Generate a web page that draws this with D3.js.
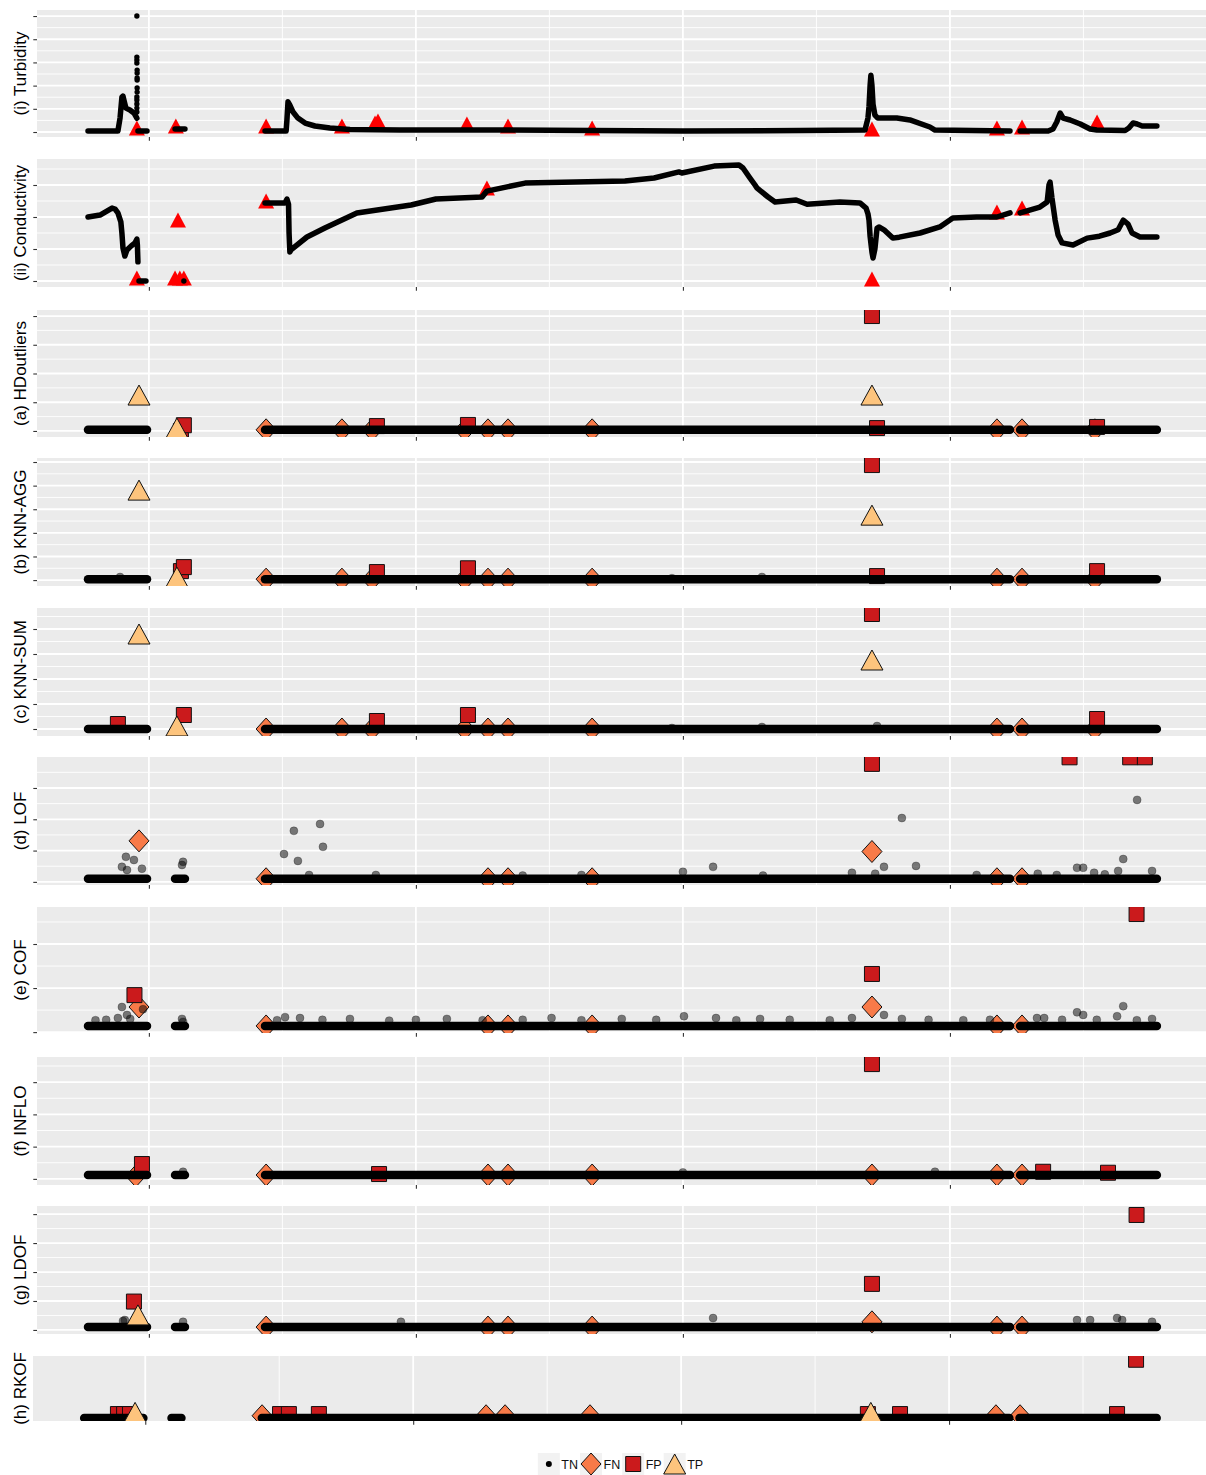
<!DOCTYPE html>
<html>
<head>
<meta charset="utf-8">
<script src="https://cdn.jsdelivr.net/npm/d3@7"></script>
<style>
  body { margin: 0; background: #fff; }
  svg { display: block; font-family: "Liberation Sans", Arial, sans-serif; }
</style>
</head>
<body>
<svg id="chart" width="1206" height="1475"></svg>
<script>
// ---- time axis (day index, unlabelled in the original) ----
const xBreaks = [100, 200, 300, 400];
const xMinorBreaks = [150, 250, 350, 450];
const xLimits = [58.1, 495.9];
// stretches of time that have observations
const coverage = [[77.2, 99.3], [109.8, 113.5], [143.5, 422.5], [426.3, 477.5]];

// ---- (i) turbidity: [day, value] ----
const turbidityLines = [
  [[77.2,4.3],[88.4,4.3],[89.2,60],[89.9,150],[90.3,155],[90.7,135],[91.4,103],[92.9,95],[94.4,82],[95.5,60]],
  [[95.9,4.3],[99.3,4.3]],
  [[109.8,12.9],[113.5,12.9]],
  [[143.5,4.3],[151.4,4.3],[151.7,52],[152.1,130],[152.8,116],[154.0,86],[155.8,60],[158.5,38.8],[162.2,25.9],
   [167.8,17.2],[175.3,10.8],[194.0,8.6],[231.5,8.6],[266.0,6.5],[300.0,4.3],[343.9,6.5],[368.2,8.6],[369.3,60],
   [369.7,110],[370.1,200],[370.4,245],[370.8,200],[371.2,120],[371.9,73],[373.0,60],[380.1,60],[385.0,52],
   [392.5,21.6],[394.4,8.6],[422.5,4.3]],
  [[426.3,4.3],[436.8,4.3],[438.6,12.9],[440.0,43],[441.3,81.9],[442.4,60],[445.0,51.7],[448.8,34.5],[452.5,12.9],
   [455.0,8.6],[465.6,6.5],[467.0,17],[468.6,38.8],[470.1,34.5],[472.0,25.9],[477.5,25.9]]
];
const turbidityDots = [[95.5,500],[95.5,323],[95.5,310],[95.5,297],[95.6,267],[95.6,254],[95.6,233],[95.6,224],
  [95.6,190],[95.6,172],[95.5,151],[95.5,138],[95.5,121],[95.5,103],[95.5,86]];
const turbidityEvents = [[95.5,17.2],[110.1,25.9],[143.9,25.9],[172.3,25.9],[184.7,38.8],[185.8,47.4],[219.1,34.5],
  [234.5,25.9],[266.0,17.2],[370.8,12.9],[417.6,17.2],[427.0,21.6],[455.1,43.1]];

// ---- (ii) conductivity: [day, value] ----
const conductivityLines = [
  [[77.2,200],[81.7,206],[86.2,228],[87.3,225],[88.4,213],[89.5,185],[89.9,150],[90.3,103],[91.0,78],[91.8,97],
   [93.3,109],[94.8,119],[95.5,131],[95.7,112],[95.9,60]],
  [[96.3,0],[98.9,0]],
  [[143.5,244],[151.0,244],[151.7,256],[152.3,240],[152.5,150],[152.8,91],[153.2,97],[159.2,137.5],[165.9,165.6],
   [177.9,212.5],[198.2,237.5],[207.5,256.3],[224.8,262.5],[226.6,281],[240.9,306],[278.3,312.5],[289.2,322],
   [298.5,341],[299.6,337.5],[311.7,359],[321.0,362.5],[322.5,353],[325.1,322],[327.0,300],[327.8,290],
   [331.9,262.5],[334.5,247],[342.4,253],[346.5,240],[358.8,247],[366.3,244],[368.6,228],[369.3,210],[369.7,190],
   [370.1,140],[370.8,90],[371.2,72],[371.9,100],[372.7,165],[373.4,169],[375.3,160],[378.6,134],[381.0,137],
   [388.8,150],[396.2,169],[401.1,197],[410.0,200],[417.6,200],[422.5,213]],
  [[426.3,213],[433.7,231],[436.4,247],[437.1,300],[437.5,309],[438.2,260],[439.4,190],[440.5,144],[442.0,119],
   [446.1,112.5],[451.4,134],[456.0,140],[460.0,150],[463.0,160],[464.9,190],[466.7,178],[468.2,150],[471.2,137.5],
   [477.5,137.5]]
];
const conductivityDots = [[113.1,0]];
const conductivityEvents = [[95.5,9.4],[110.9,190.6],[109.8,9.4],[111.6,9.4],[113.1,9.4],[143.9,250],[226.6,290.6],
  [370.8,6.3],[417.6,215.6],[427.0,228]];

// ---- detectors: [day, score] ----
const hdBase = 0.04;
const hdFN = [[143.9,0.04],[172.3,0.04],[183.6,0.04],[218.3,0.04],[227.0,0.04],[234.5,0.04],[266.0,0.04],[417.6,0.04],[427.0,0.04],[454.3,0.04]];
const hdFP = [[112.0,0.0],[113.1,0.2],[185.4,0.17],[219.5,0.21],[370.8,4.0],[372.7,0.1],[455.1,0.14]];
const hdTP = [[96.3,1.25],[110.5,0.1],[370.8,1.25]];

const aggBase = 0.04;
const aggFN = [[143.9,0.04],[172.3,0.04],[183.6,0.04],[218.3,0.04],[227.0,0.04],[234.5,0.04],[266.0,0.04],[417.6,0.04],[427.0,0.04],[454.3,0.04]];
const aggFP = [[112.0,0.38],[113.1,0.55],[185.4,0.34],[219.5,0.5],[370.8,4.87],[372.7,0.17],[455.1,0.38]];
const aggTP = [[96.3,3.81],[110.5,0.13],[370.8,2.75]];
const aggTN = [[89.2,0.13],[295.9,0.08],[329.6,0.13]];

const sumBase = 0.0;
const sumFN = [[143.9,0],[172.3,0],[183.6,0],[218.3,0],[227.0,0],[234.5,0],[266.0,0],[417.6,0],[427.0,0],[454.3,0]];
const sumFP = [[88.4,0.2],[113.1,0.56],[185.4,0.32],[219.5,0.56],[370.8,4.6],[455.1,0.4]];
const sumTP = [[96.3,3.8],[110.5,0.12],[370.8,2.76]];
const sumTN = [[295.9,0.04],[329.6,0.08],[372.7,0.12]];

const lofBase = 0.1;
const lofFN = [[96.3,1.31],[370.8,0.97],[143.9,0.1],[227.0,0.1],[234.5,0.1],[266.0,0.1],[417.6,0.1],[427.0,0.1]];
const lofFP = [[370.8,3.77],[444.8,3.98],[467.5,3.98],[473.0,3.98]];
const lofTP = [];
const lofTN = [[91.4,0.8],[89.9,0.48],[94.4,0.7],[97.4,0.42],[91.8,0.38],[112.4,0.54],[112.8,0.64],[150.6,0.89],
  [154.3,1.63],[155.8,0.67],[164.1,1.85],[165.2,1.12],[300.0,0.32],[311.3,0.48],[363.3,0.29],[375.3,0.48],
  [382.0,2.04],[387.3,0.51],[432.9,0.26],[447.6,0.45],[449.9,0.45],[454.0,0.29],[463.0,0.35],[464.9,0.73],
  [470.1,2.62],[475.7,0.35],[160.0,0.22],[185.0,0.22],[240.0,0.2],[262.0,0.22],[330.0,0.2],[372.0,0.26],
  [410.0,0.22],[440.0,0.22],[458.0,0.24]];

const cofBase = 0.14;
const cofFN = [[96.3,0.57],[370.8,0.57],[143.9,0.14],[227.0,0.14],[234.5,0.14],[266.0,0.14],[417.6,0.14],[427.0,0.14]];
const cofFP = [[94.6,0.84],[370.8,1.32],[469.9,2.68]];
const cofTP = [];
const cofTN = [[89.9,0.57],[88.4,0.32],[91.8,0.39],[97.8,0.52],[112.4,0.3],[112.8,0.23],[151.0,0.34],[156.6,0.32],
  [175.3,0.3],[211.6,0.3],[250.8,0.32],[277.1,0.3],[300.4,0.36],[312.4,0.32],[328.9,0.3],[363.3,0.32],[375.3,0.39],
  [382.0,0.3],[432.6,0.32],[435.3,0.32],[447.6,0.45],[449.9,0.39],[462.6,0.36],[464.9,0.59],[475.7,0.3],
  [148.0,0.27],[165.0,0.28],[190.0,0.26],[200.0,0.28],[225.0,0.27],[240.0,0.28],[262.0,0.27],[290.0,0.28],
  [320.0,0.27],[340.0,0.28],[355.0,0.27],[392.0,0.28],[405.0,0.27],[415.0,0.28],[442.0,0.28],[455.0,0.28],
  [470.0,0.27],[80.0,0.27],[84.0,0.28],[93.0,0.3]];

const infloBase = 0.12;
const infloFN = [[95.1,0.09],[143.9,0.12],[227.0,0.12],[234.5,0.12],[266.0,0.12],[370.8,0.12],[417.6,0.12],[427.0,0.12]];
const infloFP = [[97.4,0.46],[186.2,0.15],[370.8,3.56],[434.9,0.22],[459.2,0.19]];
const infloTP = [];
const infloTN = [[112.8,0.22],[300.0,0.2],[394.4,0.22]];

const ldofBase = 0.1;
const ldofFN = [[370.8,0.28],[143.9,0.1],[227.0,0.1],[234.5,0.1],[266.0,0.1],[417.6,0.1],[427.0,0.1]];
const ldofFP = [[94.4,0.98],[370.8,1.59],[469.9,3.97]];
const ldofTP = [[95.9,0.52]];
const ldofTN = [[90.3,0.31],[91.0,0.34],[97.4,0.28],[112.8,0.28],[194.4,0.28],[311.3,0.41],[447.6,0.34],
  [452.5,0.34],[462.6,0.41],[464.5,0.34],[475.7,0.28]];

const rkofBase = 0.0;
const rkofFN = [[143.6,0.04],[227.2,0.04],[234.3,0.04],[266.0,0.04],[417.5,0.04],[426.5,0.04]];
const rkofFP = [[89.8,0.07],[92.1,0.07],[94.3,0.07],[150.3,0.07],[153.6,0.07],[164.8,0.07],[369.7,0.07],
  [381.7,0.07],[462.7,0.07],[469.8,1.04]];
const rkofTP = [[96.2,0.1],[370.8,0.1]];
const rkofTN = [];

const legendKeys = ["TN", "FN", "FP", "TP"];

// ---- colours ----
const colFN = "#F87A48", colFP = "#CB1A1C", colTP = "#FDC47D", colEvent = "#FF0000";

// ---- layout ----
const W = 1206;
const xMain = d3.scaleLinear().domain(xLimits).range([37, W]);
const xRk = d3.scaleLinear().domain(xLimits).range([33, W]);

const panels = [
  {label: "(i) Turbidity", top: 10, bottom: 137, domain: [-21.5, 526], ticks: [0, 100, 200, 300, 400, 500],
   sensor: true, lines: turbidityLines, dots: turbidityDots, events: turbidityEvents},
  {label: "(ii) Conductivity", top: 159, bottom: 287, domain: [-18.75, 381.25], ticks: [0, 100, 200, 300],
   sensor: true, lines: conductivityLines, dots: conductivityDots, events: conductivityEvents},
  {label: "(a) HDoutliers", top: 310, bottom: 437, domain: [-0.21, 4.21], ticks: [0, 1, 2, 3, 4],
   base: hdBase, gap: true, fn: hdFN, fp: hdFP, tp: hdTP, tn: []},
  {label: "(b) KNN-AGG", top: 458, bottom: 586, domain: [-0.25, 5.17], ticks: [0, 1, 2, 3, 4, 5],
   base: aggBase, gap: true, fn: aggFN, fp: aggFP, tp: aggTP, tn: aggTN},
  {label: "(c) KNN-SUM", top: 608, bottom: 736, domain: [-0.28, 4.84], ticks: [0, 1, 2, 3, 4],
   base: sumBase, gap: true, fn: sumFN, fp: sumFP, tp: sumTP, tn: sumTN},
  {label: "(d) LOF", top: 757, bottom: 885, domain: [-0.1, 3.99], ticks: [0, 1, 2, 3],
   base: lofBase, fn: lofFN, fp: lofFP, tp: lofTP, tn: lofTN},
  {label: "(e) COF", top: 907, bottom: 1033, domain: [-0.02, 2.84], ticks: [0, 1, 2],
   base: cofBase, fn: cofFN, fp: cofFP, tp: cofTP, tn: cofTN},
  {label: "(f) INFLO", top: 1057, bottom: 1185, domain: [-0.19, 3.78], ticks: [0, 1, 2, 3],
   base: infloBase, fn: infloFN, fp: infloFP, tp: infloTP, tn: infloTN},
  {label: "(g) LDOF", top: 1206, bottom: 1334, domain: [-0.14, 4.28], ticks: [0, 1, 2, 3, 4],
   base: ldofBase, fn: ldofFN, fp: ldofFP, tp: ldofTP, tn: ldofTN},
  {label: "(h) RKOF", top: 1356, bottom: 1421, domain: [-0.054, 1.107], ticks: [], narrow: true,
   base: rkofBase, fn: rkofFN, fp: rkofFP, tp: rkofTP, tn: rkofTN}
];

const diamond = (hw, hh) => `M0,${-hh}L${hw},0L0,${hh}L${-hw},0Z`;
const square = s => `M${-s / 2},${-s / 2}h${s}v${s}h${-s}Z`;
const triangle = (w, h) => `M0,${-h / 2}L${w / 2},${h / 2}L${-w / 2},${h / 2}Z`;

function minorTicks(ticks, domain) {
  if (ticks.length < 2) return [];
  const step = ticks[1] - ticks[0];
  const out = [];
  for (let v = ticks[0] - step / 2; v <= domain[1]; v += step) {
    if (v >= domain[0]) out.push(v);
  }
  return out;
}

const svg = d3.select("#chart");
const defs = svg.append("defs");

panels.forEach((p, i) => {
  const xs = p.narrow ? xRk : xMain;
  const [x0, x1] = xs.range();
  const y = d3.scaleLinear().domain(p.domain).range([p.bottom, p.top]);
  const g = svg.append("g");

  g.append("rect")
    .attr("x", x0).attr("y", p.top)
    .attr("width", x1 - x0).attr("height", p.bottom - p.top)
    .attr("fill", "#EBEBEB");

  // grid
  const grid = g.append("g").attr("stroke", "#fff");
  if (!p.narrow) {
    grid.selectAll("line.hmin").data(minorTicks(p.ticks, p.domain)).join("line")
      .attr("x1", x0).attr("x2", x1).attr("y1", d => y(d)).attr("y2", d => y(d))
      .attr("stroke-width", 0.9);
  }
  grid.selectAll("line.vmin").data(xMinorBreaks).join("line")
    .attr("y1", p.top).attr("y2", p.bottom).attr("x1", d => xs(d)).attr("x2", d => xs(d))
    .attr("stroke-width", 0.9);
  grid.selectAll("line.hmaj").data(p.ticks).join("line")
    .attr("x1", x0).attr("x2", x1).attr("y1", d => y(d)).attr("y2", d => y(d))
    .attr("stroke-width", 1.8);
  grid.selectAll("line.vmaj").data(xBreaks).join("line")
    .attr("y1", p.top).attr("y2", p.bottom).attr("x1", d => xs(d)).attr("x2", d => xs(d))
    .attr("stroke-width", 1.8);

  // axis ticks, no labels
  if (p.ticks.length) {
    g.append("g")
      .attr("transform", `translate(${x0},0)`)
      .attr("color", "#333")
      .call(d3.axisLeft(y).tickValues(p.ticks).tickSize(3.7).tickFormat(""))
      .call(a => a.select(".domain").remove())
      .call(a => a.selectAll(".tick line").attr("stroke-width", 1.1));
  }
  g.append("g")
    .attr("transform", `translate(0,${p.bottom})`)
    .attr("color", "#333")
    .call(d3.axisBottom(xs).tickValues(xBreaks).tickSize(3.7).tickFormat(""))
    .call(a => a.select(".domain").remove())
    .call(a => a.selectAll(".tick line").attr("stroke-width", 1.1));

  // plotting area, clipped to the panel
  defs.append("clipPath").attr("id", "clip" + i)
    .append("rect").attr("x", x0).attr("y", p.top)
    .attr("width", x1 - x0).attr("height", p.bottom - p.top);
  const plot = g.append("g").attr("clip-path", `url(#clip${i})`);
  const line = d3.line().x(d => xs(d[0])).y(d => y(d[1]));
  const at = d => `translate(${xs(d[0])},${y(d[1])})`;

  if (p.sensor) {
    plot.selectAll("path.ev").data(p.events).join("path")
      .attr("d", triangle(16, 15)).attr("transform", at).attr("fill", colEvent);
    plot.selectAll("path.ln").data(p.lines).join("path")
      .attr("d", line).attr("fill", "none").attr("stroke", "#000")
      .attr("stroke-width", 5.5).attr("stroke-linejoin", "round").attr("stroke-linecap", "round");
    plot.selectAll("circle.dt").data(p.dots).join("circle")
      .attr("cx", d => xs(d[0])).attr("cy", d => y(d[1])).attr("r", 2.7).attr("fill", "#000");
  } else {
    plot.selectAll("path.fn").data(p.fn).join("path")
      .attr("d", diamond(10, 11)).attr("transform", at)
      .attr("fill", colFN).attr("stroke", "#111").attr("stroke-width", 1);
    plot.selectAll("path.fp").data(p.fp).join("path")
      .attr("d", square(15)).attr("transform", at)
      .attr("fill", colFP).attr("stroke", "#111").attr("stroke-width", 1);
    plot.selectAll("circle.tn").data(p.tn).join("circle")
      .attr("cx", d => xs(d[0])).attr("cy", d => y(d[1])).attr("r", 4)
      .attr("fill", "#000").attr("fill-opacity", 0.5)
      .attr("stroke", "#000").attr("stroke-opacity", 0.25);
    const cov = p.gap ? coverage.filter((c, j) => j !== 1) : coverage;
    plot.selectAll("path.tn").data(cov).join("path")
      .attr("d", c => line([[c[0], p.base], [c[1], p.base]]))
      .attr("fill", "none").attr("stroke", "#000")
      .attr("stroke-width", 8.5).attr("stroke-linecap", "round");
    plot.selectAll("path.tp").data(p.tp).join("path")
      .attr("d", triangle(22, 20)).attr("transform", at)
      .attr("fill", colTP).attr("stroke", "#111").attr("stroke-width", 1);
  }

  svg.append("text")
    .attr("transform", `translate(25.5,${(p.top + p.bottom) / 2}) rotate(-90)`)
    .attr("text-anchor", "middle")
    .attr("font-size", 17)
    .attr("fill", "#000")
    .text(p.label);
});

// ---- legend ----
const keySize = 22, keyTop = 1453;
const legend = svg.append("g");
const symbols = {
  TN: k => k.append("circle").attr("r", 3).attr("fill", "#000"),
  FN: k => k.append("path").attr("d", diamond(10, 11)).attr("fill", colFN).attr("stroke", "#111"),
  FP: k => k.append("path").attr("d", square(15)).attr("fill", colFP).attr("stroke", "#111"),
  TP: k => k.append("path").attr("d", triangle(22, 20)).attr("fill", colTP).attr("stroke", "#111")
};
let cursor = 0;
legendKeys.forEach(name => {
  const item = legend.append("g").attr("transform", `translate(${cursor},0)`);
  item.append("rect").attr("x", 0).attr("y", keyTop).attr("width", keySize).attr("height", keySize).attr("fill", "#F2F2F2");
  const k = item.append("g").attr("transform", `translate(${keySize / 2},${keyTop + keySize / 2})`);
  symbols[name](k);
  const t = item.append("text")
    .attr("x", keySize + 1.5).attr("y", keyTop + keySize / 2 + 4.5)
    .attr("font-size", 12.5).attr("fill", "#111").text(name);
  cursor += keySize + 1.5 + t.node().getComputedTextLength() + 2;
});
legend.attr("transform", `translate(${(37 + W) / 2 - cursor / 2},0)`);
</script>
</body>
</html>
